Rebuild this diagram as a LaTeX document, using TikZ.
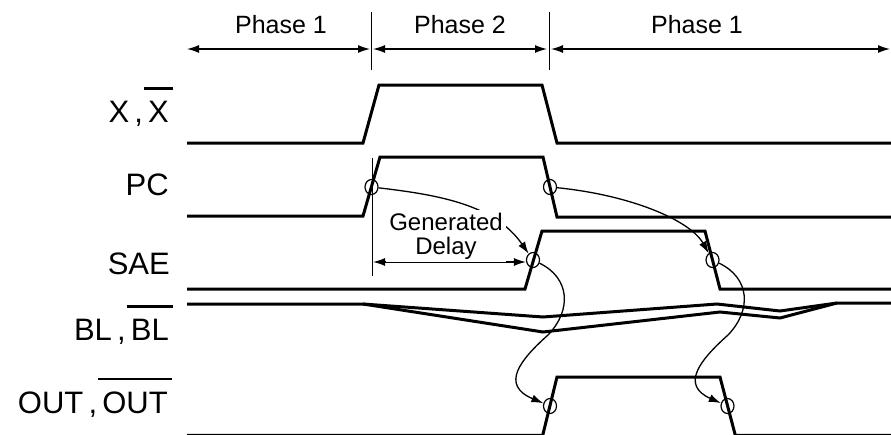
\documentclass[tikz,border=0pt]{standalone}
\usepackage{fontspec}
\setmainfont{Liberation Sans}
\usetikzlibrary{arrows.meta,shapes.geometric}
\newcommand\ovbar[1]{\leavevmode\hbox{\kern-4pt\vbox{\hrule height 2.8pt\kern 11pt\hbox{\kern4pt#1\kern4pt}}\kern-4pt}}
\begin{document}
\begin{tikzpicture}[x=1pt,y=-1pt,
  wave/.style={line width=3pt, line join=miter},
  thinline/.style={line width=1.3pt},
  tickline/.style={line width=1pt},
  tip/.style={-{Latex[length=12pt,width=8pt]}},
  dtip/.style={{Latex[length=12pt,width=8pt]}-{Latex[length=12pt,width=8pt]}},
  mk/.style={ellipse,draw,line width=1.2pt,minimum width=13pt,minimum height=15pt,inner sep=0pt},
  lab/.style={anchor=base east,inner sep=0pt,font=\fontsize{31}{36}\selectfont},
  ph/.style={font=\fontsize{25}{28}\selectfont,inner sep=0pt}]
\clip (0,0) rectangle (891,434);
\fill[white] (0,0) rectangle (891,434);

% phase bar
\coordinate (pa) at (187,49);
\coordinate (pb) at (370,49);
\coordinate (pc) at (373,49);
\coordinate (pd) at (547,49);
\coordinate (pe) at (551,49);
\coordinate (pf) at (890,49);
\draw[thinline,dtip] (pa) -- (pb);
\draw[thinline,dtip] (pc) -- (pd);
\draw[thinline,dtip] (pe) -- (pf);
\draw[tickline] (371.5,12) -- (371.5,70);
\draw[tickline] (549,12) -- (549,70);
\node[ph] (ph1) at (281,25) {Phase 1};
\node[ph] (ph2) at (460,25) {Phase 2};
\node[ph] (ph3) at (697,25) {Phase 1};

% labels
\node[lab] (lx) at (169,122) {X\,,\,\ovbar{X}};
\node[lab] (lpc) at (169,195) {PC};
\node[lab] (lsae) at (170,274) {SAE};
\node[lab] (lbl) at (169,340) {BL\,,\,\ovbar{BL}};
\node[lab] (lout) at (168,413) {OUT\,,\,\ovbar{OUT}};

% waveforms
\draw[wave] (187,143) -- (363,143) -- (379,85) -- (542,85) -- (557,143) -- (891,143);
\draw[wave] (187,216) -- (363,216) -- (380,157) -- (543,157) -- (557,217) -- (891,217);
\draw[wave] (187,289) -- (525,289) -- (542,231) -- (705,231) -- (720,289) -- (891,289);
\draw[wave] (187,304) -- (363,304) -- (543,317) -- (717,304) -- (780,311) -- (837,303) -- (891,303);
\draw[wave] (363,304) -- (543,332) -- (720,312) -- (780,318) -- (837,303);
\draw[wave] (187,435.3) -- (542.7,435.3) -- (557,377) -- (720,377) -- (735.3,435.3) -- (891,435.3);

% markers
\node[mk] (pc1) at (371.5,187) {};
\node[mk] (pc2) at (550,187) {};
\node[mk] (sae1) at (533,260) {};
\node[mk] (sae2) at (712.5,260) {};
\node[mk] (out1) at (550,406) {};
\node[mk] (out2) at (727.5,406) {};

% delay
\draw[tickline] (372,158) -- (372,276);
\coordinate (dl) at (373,262);
\draw[thinline,dtip] (dl) -- (dl -| sae1.west);

% causal arrows
\draw[thinline,tip] (pc1) .. controls (440,195) and (495,205) .. (sae1);
\draw[thinline,tip] (pc2) .. controls (630,195) and (690,220) .. (sae2);
\draw[thinline,tip] (sae1) .. controls (570,278) and (572,310) .. (548,335) .. controls (520,360) and (500,385) .. (out1);
\draw[thinline,tip] (sae2) .. controls (750,278) and (752,310) .. (728,335) .. controls (700,360) and (680,385) .. (out2);

\node[align=center,fill=white,inner sep=3pt,font=\fontsize{24}{24}\selectfont] (gd) at (446,236) {Generated\\Delay};
\end{tikzpicture}
\end{document}
